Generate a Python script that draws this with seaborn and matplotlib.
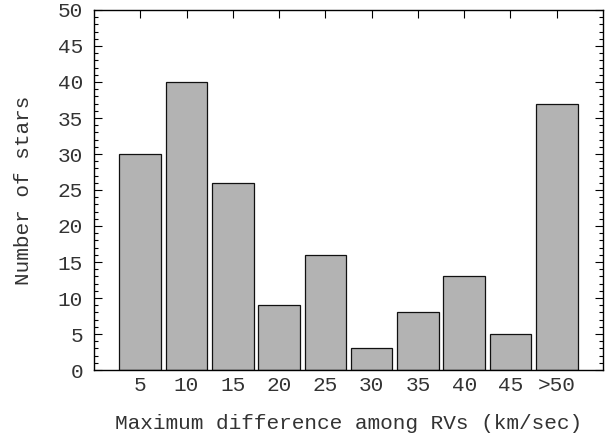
import matplotlib
matplotlib.use('Agg')
import matplotlib.pyplot as plt
import seaborn as sns
from matplotlib.ticker import MultipleLocator

categories = ['5', '10', '15', '20', '25', '30', '35', '40', '45', '>50']
counts = [30, 40, 26, 9, 16, 3, 8, 13, 5, 37]

sns.set_style('ticks')
plt.rcParams['font.family'] = ['Liberation Mono', 'DejaVu Sans Mono']

fig = plt.figure(figsize=(6.09, 4.37), dpi=100)
ax = fig.add_axes([94 / 609, 67 / 437, 509 / 609, 360 / 437])

sns.barplot(x=categories, y=counts, color='#b3b3b3', saturation=1,
            edgecolor='#111111', linewidth=0.9, width=0.9, ax=ax)

ax.set_xlim(-1, len(categories))
ax.set_ylim(0, 50)
ax.yaxis.set_major_locator(MultipleLocator(5))
ax.yaxis.set_minor_locator(MultipleLocator(1))

fs = 15.2
txt = '#333333'
ax.tick_params(axis='y', which='both', direction='in', left=True, right=True,
               labelsize=fs, pad=8, colors=txt)
ax.tick_params(axis='y', which='major', length=6, width=0.8, color='black')
ax.tick_params(axis='y', which='minor', length=3, width=0.8, color='black')
ax.tick_params(axis='x', direction='in', bottom=False, top=True, length=6,
               width=0.8, color='black', labelsize=fs, pad=4, labelcolor=txt)

for s in ax.spines.values():
    s.set_visible(True)
    s.set_linewidth(1.0)
    s.set_color('black')

ax.set_xlabel('Maximum difference among RVs (km/sec)', fontsize=fs, color=txt, labelpad=14)
ax.set_ylabel('Number of stars', fontsize=fs, color=txt, labelpad=18)

fig.savefig('out.png', dpi=100)
